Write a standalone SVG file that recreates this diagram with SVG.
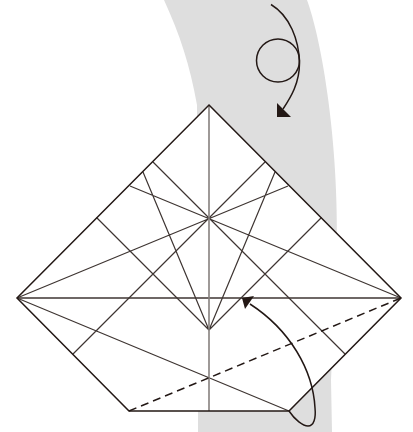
<svg xmlns="http://www.w3.org/2000/svg" width="413" height="432" viewBox="0 0 413 432">
<style>
.e{fill:none;stroke:#231815;stroke-width:1.5}
.t{fill:none;stroke:#3e3532;stroke-width:1.2}
.a{fill:none;stroke:#231815;stroke-width:1.5}
.h{fill:#231815}
</style>
<g id="band"><path d="M164 0H307C320 35 338 130 337 240L331 380L332 432H198V411L197 105C190 65 180 35 164 0Z" fill="#dedede"/></g>
<g id="paper"><path d="M209 105L401 298L289 411H129L17 298Z" fill="#fff"/></g>
<g id="connectors">
<path class="t" d="M17 298L288 186M401 298L130 186M153 162L345 354M265 162L73 354M209 330L143 172M209 330L275 172M209 330L96.500 217.500M209 330L321.500 217.500M17 298L289 411"/>
<path class="t" d="M17 298H401" style="stroke-width:1.4"/>
<path d="M209 105V411" fill="none" stroke="#86807e" stroke-width="1.600"/>
<path class="t" stroke-dasharray="8 5" style="stroke-width:1.500;stroke:#231815" d="M129 411L401 298"/>
<path class="e" d="M209 105L401 298L289 411H129L17 298Z"/>
<path class="a" d="M271 4.500C290 16 299 40 299.500 63C299.500 83 291 97 283 109"/>
<circle class="a" cx="278" cy="60.500" r="21.500"/>
<path class="h" d="M277 103L291 117H277Z"/>
<path class="a" d="M289 411C295 420 303 426 308 426C314 426 316 418 315 408C313 370 290 330 250 304"/>
<path class="h" d="M242 298L254 296L245 309Z"/>
</g>
</svg>
